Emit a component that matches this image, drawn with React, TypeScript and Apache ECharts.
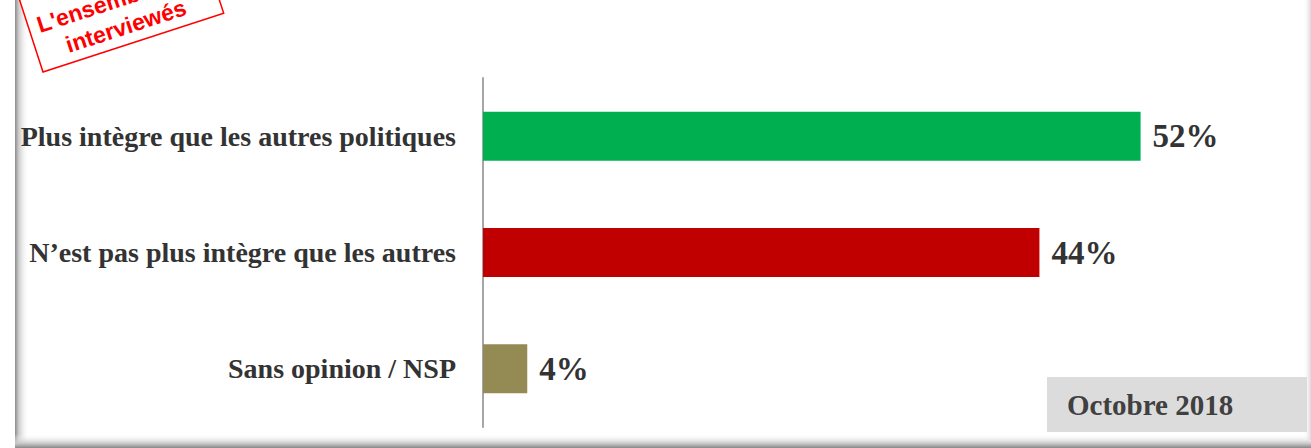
import React, { useEffect, useRef } from "react";
import * as echarts from "echarts";

const categories = [
  "Plus intègre que les autres politiques",
  "N’est pas plus intègre que les autres",
  "Sans opinion / NSP",
];
const values = [52, 44, 3.5];
const valueLabels = ["52%", "44%", "4%"];
const barColors = ["#00B050", "#C00000", "#948A54"];
const stampLines = ["L'ensemble des", "interviewés"];
const dateLabel = "Octobre 2018";

const SERIF = "'Liberation Serif', 'Times New Roman', serif";

export default function App() {
  const ref = useRef<HTMLDivElement>(null);

  useEffect(() => {
    if (!ref.current) return;
    const chart = echarts.init(ref.current, undefined, { renderer: "svg" });
    const rot = (18 * Math.PI) / 180;
    chart.setOption({
      animation: false,
      backgroundColor: "#ffffff",
      grid: { left: 483, width: 822, top: 78, height: 349, containLabel: false },
      xAxis: {
        type: "value",
        min: 0,
        max: 65,
        show: false,
      },
      yAxis: {
        type: "category",
        data: categories,
        inverse: true,
        axisLine: { show: true, lineStyle: { color: "#a6a6a6", width: 2 } },
        axisTick: { show: false },
        axisLabel: {
          margin: 27,
          fontFamily: SERIF,
          fontWeight: "bold",
          fontSize: 28,
          color: "#333333",
        },
      },
      series: [
        {
          type: "bar",
          barWidth: 49,
          data: values.map((v, i) => ({
            value: v,
            itemStyle: { color: barColors[i] },
          })),
          label: {
            show: true,
            position: "right",
            distance: 12,
            formatter: (p: any) => valueLabels[p.dataIndex],
            fontFamily: SERIF,
            fontWeight: "bold",
            fontSize: 33,
            color: "#333333",
          },
        },
      ],
      graphic: [
        {
          type: "rect",
          z: -10,
          shape: { x: 15, y: 0, width: 14, height: 447 },
          style: {
            fill: new echarts.graphic.LinearGradient(0, 0, 1, 0, [
              { offset: 0, color: "#8a8a8a" },
              { offset: 0.25, color: "#c8c8c8" },
              { offset: 1, color: "rgba(255,255,255,0)" },
            ]),
          },
          silent: true,
        },
        {
          type: "rect",
          z: -10,
          shape: { x: 15, y: 434, width: 1296, height: 14 },
          style: {
            fill: new echarts.graphic.LinearGradient(0, 0, 0, 1, [
              { offset: 0, color: "rgba(255,255,255,0)" },
              { offset: 0.7, color: "#c4c4c4" },
              { offset: 1, color: "#888888" },
            ]),
          },
          silent: true,
        },
        {
          type: "rect",
          z: -10,
          shape: { x: 1303, y: 0, width: 8, height: 440 },
          style: {
            fill: new echarts.graphic.LinearGradient(0, 0, 1, 0, [
              { offset: 0, color: "rgba(255,255,255,0)" },
              { offset: 1, color: "#d8d8d8" },
            ]),
          },
          silent: true,
        },
        {
          type: "rect",
          shape: { x: 1047, y: 377, width: 260, height: 55 },
          style: { fill: "#dcdcdc" },
          silent: true,
        },
        {
          type: "text",
          x: 1067,
          y: 405,
          style: {
            text: dateLabel,
            fontFamily: SERIF,
            fontWeight: "bold",
            fontSize: 29,
            fill: "#404040",
            verticalAlign: "middle",
            align: "left",
          },
          silent: true,
        },
        {
          type: "group",
          x: 43,
          y: 72,
          rotation: rot,
          silent: true,
          children: [
            {
              type: "rect",
              shape: { x: 0, y: -76, width: 190, height: 76 },
              style: { fill: "#ffffff", stroke: "#ff0000", lineWidth: 1.5 },
            },
            {
              type: "text",
              x: 95,
              y: -46,
              style: {
                text: stampLines[0],
                fontFamily: "'Liberation Sans', Arial, sans-serif",
                fontWeight: "bold",
                fontSize: 23,
                fill: "#ff0000",
                align: "center",
                verticalAlign: "middle",
              },
            },
            {
              type: "text",
              x: 93,
              y: -18,
              style: {
                text: stampLines[1],
                fontFamily: "'Liberation Sans', Arial, sans-serif",
                fontWeight: "bold",
                fontSize: 23,
                fill: "#ff0000",
                align: "center",
                verticalAlign: "middle",
              },
            },
          ],
        },
      ],
    });
    return () => chart.dispose();
  }, []);

  return (
    <div
      ref={ref}
      style={{ position: "absolute", left: 0, top: 0, width: 1311, height: 448 }}
    />
  );
}
